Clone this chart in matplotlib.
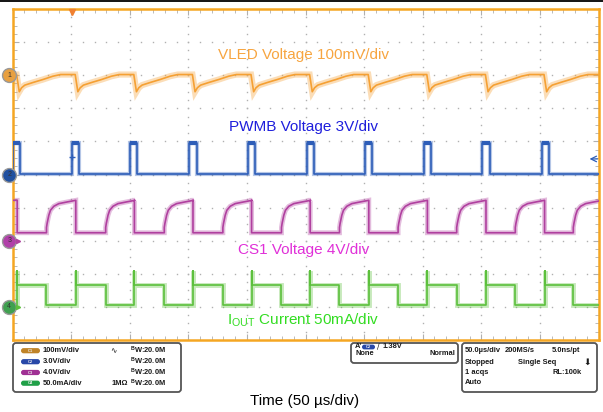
import matplotlib
matplotlib.use("Agg")
import matplotlib.pyplot as plt
from matplotlib.patches import FancyBboxPatch
from matplotlib.lines import Line2D
from matplotlib.ticker import MultipleLocator

plt.rcParams["font.family"] = ["Liberation Sans", "DejaVu Sans"]

# ---- datos (tiempo en divisiones, 50 us/div) ----
# nivel de referencia de cada canal (divisiones desde abajo)
off_vled = 8.0
off_pwmb = 5.0
off_cs1 = 3.0
off_iout = 1.0

# PWMB: flancos de subida, ancho del pulso y niveles (div)
pwmb_rise = [0.01, 1.01, 2.01, 3.02, 4.02, 5.02, 6.02, 7.02, 8.02, 9.03]
pwmb_width = 0.12
pwmb_low = 0.03
pwmb_high = 0.96

# CS1 / IOUT: instantes de conmutacion
sw_off = [0.08, 1.08, 2.08, 3.08, 4.08, 5.08, 6.08, 7.08, 8.08, 9.08]
sw_on = [0.58, 1.59, 2.59, 3.59, 4.59, 5.58, 6.58, 7.58, 8.58, 9.57]

cs1_low = 0.24
cs1_shape_t = [0.0, 0.0, 0.011, 0.04, 0.068, 0.125, 0.21, 0.35, 0.5]
cs1_shape_v = [0.24, 0.40, 0.525, 0.77, 0.92, 1.04, 1.12, 1.17, 1.22]

iout_low = 0.06
iout_high = 0.66
iout_spike = 1.08

# VLED: caida en cada conmutacion y recuperacion
vled_drop = [0.07, 1.07, 2.07, 3.07, 4.07, 5.07, 6.07, 7.07, 8.07, 9.07]
vled_shape_t = [0.0, 0.045, 0.085, 0.14, 0.28, 0.45, 0.62, 0.75]
vled_shape_v = [0.02, -0.50, -0.38, -0.30, -0.22, -0.13, -0.03, 0.02]

c_vled, t_vled = "#F5A033", "#F7A540"
c_pwmb, t_pwmb = "#2D5DB8", "#1E1EDC"
c_cs1, t_cs1 = "#B0409F", "#E030D8"
c_iout, t_iout = "#5CC03C", "#33DD22"

# ---- construir trazas ----
vx, vy = [0.0], [0.02]
for d in vled_drop:
    for pt, pv in zip(vled_shape_t, vled_shape_v):
        vx.append(d + pt)
        vy.append(pv)
vx.append(10.0)
vy.append(0.02)

px, py = [0.0], [pwmb_low]
for r in pwmb_rise:
    px += [r, r, r + pwmb_width, r + pwmb_width]
    py += [pwmb_low, pwmb_high, pwmb_high, pwmb_low]
px.append(10.0)
py.append(pwmb_low)

cx, cy = [0.0], [cs1_shape_v[-1]]
ix, iy = [0.0], [iout_low]
for f, r in zip(sw_off, sw_on):
    cx += [f, f]
    cy += [cs1_shape_v[-1], cs1_low]
    cx += [r]
    cy += [cs1_low]
    for pt, pv in zip(cs1_shape_t, cs1_shape_v):
        cx.append(r + pt)
        cy.append(pv)
    ix += [f, f, f, r, r]
    iy += [iout_low, iout_spike, iout_high, iout_high, iout_low]
ix.append(10.0)
iy.append(iout_low)

# ---- figura ----
fig = plt.figure(figsize=(6.03, 4.12), dpi=100)
fig.add_artist(Line2D([0, 1], [1 - 0.8 / 412] * 2, color="black", lw=1.3))

ax = fig.add_axes([12.5 / 603, 72 / 412, 586 / 603, 331 / 412])
ax.set_xlim(0, 10)
ax.set_ylim(0, 10)
for s in ax.spines.values():
    s.set_color("#F5A623")
    s.set_linewidth(1.8)
ax.xaxis.set_major_locator(MultipleLocator(1))
ax.xaxis.set_minor_locator(MultipleLocator(0.2))
ax.yaxis.set_major_locator(MultipleLocator(1))
ax.yaxis.set_minor_locator(MultipleLocator(0.25))
ax.tick_params(which="both", direction="in", top=True, right=True,
               labelbottom=False, labelleft=False, color="#B0B0B0")
ax.tick_params(which="major", length=4, width=0.8)
ax.tick_params(which="minor", length=3, width=0.6)

# reticula punteada
for g in range(1, 10):
    ax.plot([k * 0.2 for k in range(51)], [g] * 51, ls="none", marker="s",
            ms=1.0, mew=0, color="#B0B0B0", zorder=1)
    ax.plot([g] * 41, [k * 0.25 for k in range(41)], ls="none", marker="s",
            ms=1.0, mew=0, color="#B0B0B0", zorder=1)

def trace(x, y, off, color, fuzz):
    yy = [v + off for v in y]
    ax.plot(x, yy, color=color, lw=fuzz, alpha=0.35, zorder=2,
            solid_joinstyle="miter")
    ax.plot(x, yy, color=color, lw=1.2, zorder=3)

trace(vx, vy, off_vled, c_vled, 4.5)
trace(px, py, off_pwmb, c_pwmb, 3.0)
for r in pwmb_rise:
    ax.plot([r, r + pwmb_width], [off_pwmb + pwmb_high] * 2, color=c_pwmb,
            lw=3, zorder=3, solid_capstyle="butt")
trace(cx, cy, off_cs1, c_cs1, 3.5)
trace(ix, iy, off_iout, c_iout, 3.5)

# etiquetas de canal
ax.text(4.96, 8.6, "VLED Voltage 100mV/div", color=t_vled, fontsize=11,
        ha="center", va="center")
ax.text(4.96, 6.45, "PWMB Voltage 3V/div", color=t_pwmb, fontsize=11,
        ha="center", va="center")
ax.text(4.96, 2.72, "CS1 Voltage 4V/div", color=t_cs1, fontsize=11,
        ha="center", va="center")
ax.text(4.96, 0.6, r"$\mathregular{I_{OUT}}$ Current 50mA/div", color=t_iout,
        fontsize=11, ha="center", va="center")

# marcadores de canal
marks = [(off_vled, "#E8A040", "1"), (off_pwmb, "#2050A0", "2"),
         (off_cs1, "#B040A8", "3"), (off_iout, "#40A050", "4")]
for yv, col, lab in marks:
    ax.plot(-0.055, yv, marker="o", ms=10, mfc=col, mec="#999999", mew=1,
            clip_on=False, zorder=5)
    ax.text(-0.055, yv, lab, fontsize=5, ha="center", va="center",
            color="#333333", clip_on=False, zorder=6)
for yv, col in [(off_cs1, c_cs1), (off_iout, c_iout)]:
    ax.plot(0.1, yv, marker=">", ms=3, color=col, clip_on=False, zorder=5)

# disparo
ax.plot(1.01, 9.92, marker="v", ms=5, color="#F08030", clip_on=False, zorder=5)
ax.plot(1.01, 5.53, marker="+", ms=4, color=c_pwmb, zorder=5)
ax.annotate("", xy=(9.8, 5.47), xytext=(10.03, 5.47),
            arrowprops=dict(arrowstyle="->", color=c_pwmb, lw=0.9),
            annotation_clip=False)

# ---- panel inferior ----
ov = fig.add_axes([0, 0, 1, 1], zorder=-1)
ov.set_xlim(0, 603)
ov.set_ylim(412, 0)
ov.axis("off")

def box(x, y, w, h):
    ov.add_patch(FancyBboxPatch((x, y), w, h,
                                boxstyle="round,pad=0,rounding_size=3",
                                fc="white", ec="#555555", lw=1.3))

box(13, 343, 168, 49)
box(351, 343, 107, 20)
box(462, 343, 135, 49)

fs = 5.4
tc = "#1A1A1A"
rows_y = [350.7, 361.7, 372.5, 383.2]
pill_cols = ["#C08428", "#2848A8", "#A03094", "#20A048"]
scales = ["100mV/div", "3.0V/div", "4.0V/div", "50.0mA/div"]
for k in range(4):
    ov.add_patch(FancyBboxPatch((21, rows_y[k] - 2.6), 19, 5.2,
                                boxstyle="round,pad=0,rounding_size=2.6",
                                fc=pill_cols[k], ec="none"))
    ov.text(30.5, rows_y[k], "C%d" % (k + 1), fontsize=3, color="#EEEEEE",
            ha="center", va="center", weight="bold")
    ov.text(43, rows_y[k], scales[k], fontsize=fs, color=tc, va="center",
            weight="bold")
    ov.text(130, rows_y[k], r"$^{\mathregular{B}}$W:20.0M", fontsize=fs,
            color=tc, va="center", weight="bold")
ov.text(113, rows_y[0], "\u223f", fontsize=5.5, color=tc, va="center",
        ha="center", family=["DejaVu Sans"])
ov.text(128, rows_y[3], "1M\u03a9", fontsize=fs, color=tc, va="center",
        ha="right", weight="bold")

ov.text(355, 347, "A'", fontsize=fs, color=tc, va="center", weight="bold")
ov.add_patch(FancyBboxPatch((362, 344.6), 13, 4.8,
                            boxstyle="round,pad=0,rounding_size=2.4",
                            fc="#2848A8", ec="none"))
ov.text(368.5, 347, "C2", fontsize=3, color="#EEEEEE", ha="center",
        va="center", weight="bold")
ov.text(377, 347, "\u2215", fontsize=5.5, color=tc, va="center",
        family=["DejaVu Sans"])
ov.text(383, 347, "1.38V", fontsize=fs, color=tc, va="center", weight="bold")
ov.text(355, 353.5, "None", fontsize=fs, color=tc, va="center", weight="bold")
ov.text(455, 353.5, "Normal", fontsize=fs, color=tc, va="center", ha="right",
        weight="bold")

ov.text(465, 350.7, "50.0\u00b5s/div", fontsize=fs, color=tc, va="center",
        weight="bold")
ov.text(505, 350.7, "200MS/s", fontsize=fs, color=tc, va="center",
        weight="bold")
ov.text(580, 350.7, "5.0ns/pt", fontsize=fs, color=tc, va="center",
        ha="right", weight="bold")
ov.text(465, 362.7, "Stopped", fontsize=fs, color=tc, va="center",
        weight="bold")
ov.text(518, 362.7, "Single Seq", fontsize=fs, color=tc, va="center",
        weight="bold")
ov.text(587, 362.7, "\u2b07", fontsize=6.5, color=tc, va="center", ha="center",
        family=["DejaVu Sans"])
ov.text(465, 372.7, "1 acqs", fontsize=fs, color=tc, va="center",
        weight="bold")
ov.text(582, 372.7, "RL:100k", fontsize=fs, color=tc, va="center",
        ha="right", weight="bold")
ov.text(465, 382.7, "Auto", fontsize=fs, color=tc, va="center", weight="bold")

ov.text(305, 401.5, "Time (50 \u00b5s/div)", fontsize=11, color="black",
        ha="center", va="center")

fig.savefig("out.png", dpi=100)
